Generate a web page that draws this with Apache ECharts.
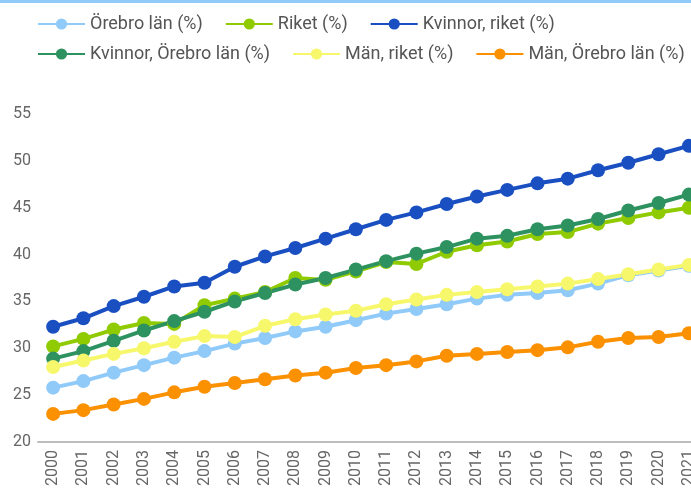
<!DOCTYPE html>
<html>
<head>
<meta charset="utf-8">
<script src="https://cdn.jsdelivr.net/npm/echarts@6/dist/echarts.min.js"></script>
<style>
  html, body { margin: 0; padding: 0; background: #fff; }
  #chart { width: 691px; height: 489px; }
</style>
</head>
<body>
<div id="chart"></div>
<script>
// år
const years = ["2000", "2001", "2002", "2003", "2004", "2005", "2006", "2007", "2008", "2009", "2010",
  "2011", "2012", "2013", "2014", "2015", "2016", "2017", "2018", "2019", "2020", "2021"]

const orebroLan = [25.8, 26.5, 27.4, 28.2, 29.0, 29.7, 30.5, 31.1, 31.8, 32.3, 33.0,
  33.7, 34.2, 34.7, 35.3, 35.7, 35.9, 36.2, 36.9, 37.8, 38.3, 38.8]
const riket = [30.2, 31.0, 32.0, 32.7, 32.6, 34.6, 35.3, 36.0, 37.5, 37.3, 38.2,
  39.2, 39.0, 40.3, 41.0, 41.4, 42.2, 42.4, 43.3, 43.9, 44.5, 45.0]
const kvinnorRiket = [32.3, 33.2, 34.5, 35.5, 36.6, 37.0, 38.7, 39.8, 40.7, 41.7, 42.7,
  43.7, 44.5, 45.4, 46.2, 46.9, 47.6, 48.1, 49.0, 49.8, 50.7, 51.6]
const kvinnorOrebro = [28.9, 29.7, 30.8, 31.9, 32.9, 33.9, 35.0, 35.9, 36.8, 37.5, 38.4,
  39.3, 40.1, 40.8, 41.7, 42.0, 42.7, 43.1, 43.8, 44.7, 45.5, 46.4]
const manRiket = [28.0, 28.7, 29.4, 30.0, 30.7, 31.3, 31.2, 32.4, 33.1, 33.6, 34.0,
  34.7, 35.2, 35.7, 36.0, 36.3, 36.6, 36.9, 37.4, 37.9, 38.4, 38.9]
const manOrebro = [23.0, 23.4, 24.0, 24.6, 25.3, 25.9, 26.3, 26.7, 27.1, 27.4, 27.9,
  28.2, 28.6, 29.2, 29.4, 29.6, 29.8, 30.1, 30.7, 31.1, 31.2, 31.6]

const chart = echarts.init(document.getElementById("chart"))

const makeSeries = (name, color, data) => ({
  name: name,
  type: "line",
  data: data,
  symbol: "circle",
  symbolSize: 14,
  lineStyle: { width: 4, color: color },
  itemStyle: { color: color },
  emphasis: { disabled: true }
})

const legendText = { fontFamily: "Roboto", fontSize: 18, color: "#555" }

const options = {
  animation: false,
  textStyle: { fontFamily: "Roboto" },
  graphic: [
    {
      type: "rect",
      shape: { x: 0, y: 0, width: 691, height: 3 },
      style: { fill: "#90CAF9" }
    }
  ],
  legend: [
    {
      left: 37,
      top: 15,
      padding: 0,
      itemWidth: 47,
      itemHeight: 14,
      itemGap: 22,
      textStyle: legendText,
      data: ["Örebro län (%)", "Riket (%)", "Kvinnor, riket (%)"]
    },
    {
      left: 37,
      top: 45,
      padding: 0,
      itemWidth: 47,
      itemHeight: 14,
      itemGap: 22,
      textStyle: legendText,
      data: ["Kvinnor, Örebro län (%)", "Män, riket (%)", "Män, Örebro län (%)"]
    }
  ],
  grid: {
    left: 38,
    top: 114,
    width: 666,
    height: 328,
    outerBoundsMode: "none",
    containLabel: false
  },
  xAxis: {
    type: "category",
    data: years,
    boundaryGap: true,
    axisLine: { lineStyle: { color: "#bdbdbd", width: 2 } },
    axisTick: { show: false },
    axisLabel: {
      rotate: 90,
      interval: 0,
      fontSize: 16,
      color: "#666",
      margin: 8
    }
  },
  yAxis: {
    type: "value",
    min: 20,
    max: 55,
    interval: 5,
    axisLine: { show: false },
    axisTick: { show: false },
    splitLine: { show: false },
    axisLabel: { fontSize: 16, color: "#666", margin: 7 }
  },
  series: [
    makeSeries("Örebro län (%)", "#90CAF9", orebroLan),
    makeSeries("Riket (%)", "#8FCB00", riket),
    makeSeries("Kvinnor, riket (%)", "#1A4FC2", kvinnorRiket),
    makeSeries("Kvinnor, Örebro län (%)", "#2E9260", kvinnorOrebro),
    makeSeries("Män, riket (%)", "#F7F76C", manRiket),
    makeSeries("Män, Örebro län (%)", "#FB9000", manOrebro)
  ]
}

chart.setOption(options)
</script>
</body>
</html>
